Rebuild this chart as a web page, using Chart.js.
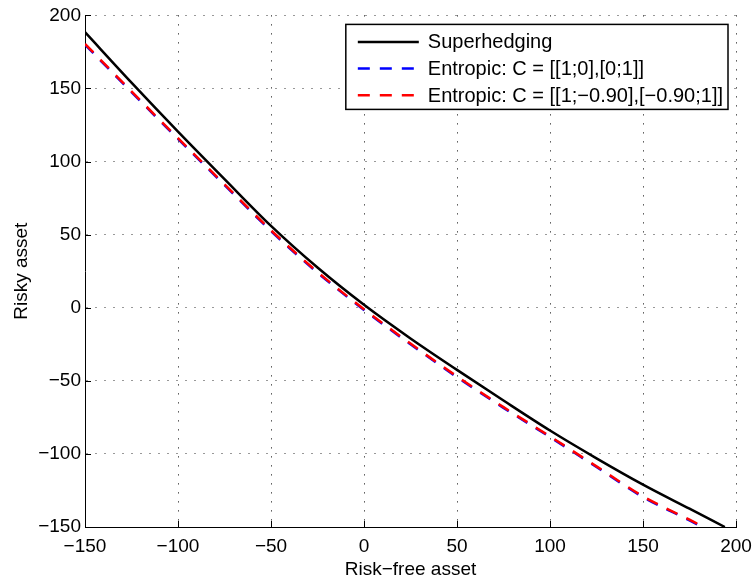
<!DOCTYPE html>
<html>
<head>
<meta charset="utf-8">
<script src="https://cdn.jsdelivr.net/npm/chart.js@4.4.1/dist/chart.umd.min.js"></script>
<style>
  html, body { margin: 0; padding: 0; background: #fff; }
  #wrap { width: 756px; height: 581px; }
</style>
</head>
<body>
<div id="wrap"><canvas id="hedge-chart"></canvas></div>
<script>
// -------- DATA -------- //
const xTicks = [-150, -100, -50, 0, 50, 100, 150, 200];
const yTicks = [-150, -100, -50, 0, 50, 100, 150, 200];

const superX = [-150, -125, -100, -75, -50, -25, 0, 25, 50, 75, 100, 125, 150, 175, 194];
const superY = [188.5, 154, 120.5, 88, 56, 27.5, 2, -21, -42.5, -63.5, -84, -103, -121, -137.5, -150];

const entropicX = [-150, -125, -100, -75, -50, -25, 0, 25, 50, 75, 100, 125, 150, 175, 182];
const entropicIndepY = [180, 147.5, 115.5, 84, 52.5, 24, -1.5, -25, -47.5, -68.5, -88.5, -109, -129.5, -145.5, -150];
const entropicCorrY = [180.5, 148, 116, 84.5, 53, 24.5, -1, -24.5, -47, -68, -88, -108.5, -129, -145, -149.5];

const seriesNames = [
  'Superhedging',
  'Entropic: C = [[1;0],[0;1]]',
  'Entropic: C = [[1;\u22120.90],[\u22120.90;1]]'
];

const FONT = "'Liberation Sans', Arial, Helvetica, sans-serif";
const minus = v => String(v).replace('-', '\u2212');
const toPoints = (xs, ys) => xs.map((x, i) => ({ x: x, y: ys[i] }));

// -------- PLUGINS -------- //

// MATLAB style ticks pointing into the plot
const innerTicks = {
  id: 'innerTicks',
  afterDraw(chart) {
    const { ctx, chartArea: a, scales: { x, y } } = chart;
    ctx.save();
    ctx.strokeStyle = '#000';
    ctx.lineWidth = 1;
    ctx.beginPath();
    x.ticks.forEach(t => {
      const px = Math.round(x.getPixelForValue(t.value)) + 0.5;
      ctx.moveTo(px, a.bottom);
      ctx.lineTo(px, a.bottom - 6);
    });
    y.ticks.forEach(t => {
      const py = Math.round(y.getPixelForValue(t.value)) + 0.5;
      ctx.moveTo(a.left, py);
      ctx.lineTo(a.left + 6, py);
    });
    ctx.stroke();
    ctx.restore();
  }
};

// legend box in the top right corner of the axes
const boxLegend = {
  id: 'boxLegend',
  afterDraw(chart) {
    const { ctx, chartArea: a } = chart;
    const sets = chart.data.datasets;
    ctx.save();
    ctx.font = '20px ' + FONT;
    const textW = Math.max(...sets.map(d => ctx.measureText(d.label).width));
    const w = 82 + textW + 5;
    const h = 85;
    const right = a.right - 8;
    const left = right - w;
    const top = a.top + 9;

    ctx.fillStyle = '#fff';
    ctx.fillRect(left, top, w, h);
    ctx.strokeStyle = '#000';
    ctx.lineWidth = 1.5;
    ctx.strokeRect(left, top, w, h);

    sets.forEach((d, i) => {
      const cy = top + 17.5 + i * 26.7;
      ctx.beginPath();
      ctx.strokeStyle = d.borderColor;
      ctx.lineWidth = d.borderWidth;
      ctx.setLineDash(d.borderDash || []);
      ctx.moveTo(left + 12, cy);
      ctx.lineTo(left + 73, cy);
      ctx.stroke();
      ctx.setLineDash([]);
      ctx.fillStyle = '#000';
      ctx.textBaseline = 'middle';
      ctx.textAlign = 'left';
      ctx.fillText(d.label, left + 82, cy + 1);
    });
    ctx.restore();
  }
};

// -------- CHART -------- //
const hedgeCtx = document.getElementById('hedge-chart');

const hedgeChart = new Chart(hedgeCtx, {
  type: 'scatter',
  data: {
    datasets: [
      {
        label: seriesNames[0],
        data: toPoints(superX, superY),
        borderColor: '#000000',
        borderWidth: 2.5,
        showLine: true,
        pointRadius: 0,
        cubicInterpolationMode: 'monotone',
        order: 3
      },
      {
        label: seriesNames[1],
        data: toPoints(entropicX, entropicIndepY),
        borderColor: '#0000ff',
        borderWidth: 2.5,
        borderDash: [12, 10],
        showLine: true,
        pointRadius: 0,
        cubicInterpolationMode: 'monotone',
        order: 2
      },
      {
        label: seriesNames[2],
        data: toPoints(entropicX, entropicCorrY),
        borderColor: '#ff0000',
        borderWidth: 2.5,
        borderDash: [12, 10],
        showLine: true,
        pointRadius: 0,
        cubicInterpolationMode: 'monotone',
        order: 1
      }
    ]
  },
  options: {
    responsive: true,
    maintainAspectRatio: false,
    animation: { duration: 0 },
    layout: { padding: { left: 0, right: 20, top: 15, bottom: 0 } },
    plugins: {
      legend: { display: false },
      tooltip: { enabled: false }
    },
    scales: {
      x: {
        type: 'linear',
        min: -150,
        max: 200,
        afterBuildTicks: s => { s.ticks = xTicks.map(v => ({ value: v })); },
        afterFit: s => {
          s.height = 54;
          s.paddingLeft = 0;
          s.paddingRight = 0;
        },
        ticks: {
          color: '#000',
          font: { family: FONT, size: 19 },
          padding: 8,
          maxRotation: 0,
          callback: v => minus(v)
        },
        grid: { color: '#000', lineWidth: 1, drawTicks: false },
        border: { color: '#000', width: 1, dash: [1, 8] },
        title: {
          display: true,
          text: 'Risk\u2212free asset',
          color: '#000',
          font: { family: FONT, size: 19 },
          padding: { top: 0, bottom: 0 }
        }
      },
      y: {
        type: 'linear',
        min: -150,
        max: 200,
        afterBuildTicks: s => { s.ticks = yTicks.map(v => ({ value: v })); },
        afterFit: s => { s.width = 85; },
        ticks: {
          color: '#000',
          font: { family: FONT, size: 19 },
          padding: 4,
          callback: v => minus(v)
        },
        grid: { color: '#999', lineWidth: 1, drawTicks: false },
        border: { color: '#000', width: 1, dash: [2, 7] },
        title: {
          display: true,
          text: 'Risky asset',
          color: '#000',
          font: { family: FONT, size: 19 },
          padding: { top: 10, bottom: 0 }
        }
      }
    }
  },
  plugins: [innerTicks, boxLegend]
});
</script>
</body>
</html>
